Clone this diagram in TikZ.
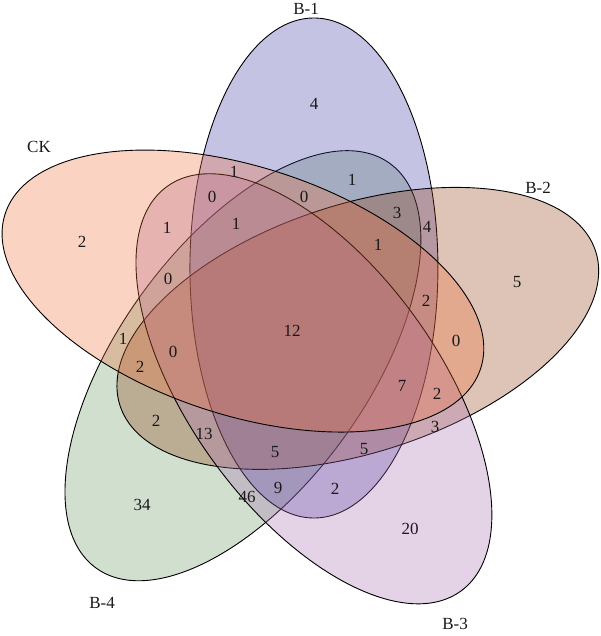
\documentclass[tikz,border=0pt]{standalone}
\usepackage{fontspec}
\setmainfont{Liberation Serif}
\usepackage{tikz}
\definecolor{ckc}{RGB}{238,108,55}
\definecolor{bonec}{RGB}{62,55,165}
\definecolor{btwoc}{RGB}{142,58,12}
\definecolor{bthreec}{RGB}{165,108,175}
\definecolor{bfourc}{RGB}{98,148,92}

\begin{document}
\begin{tikzpicture}[x=1pt, y=1pt,
  % translucent petal of the five-set diagram
  petal/.style={fill=#1, fill opacity=0.3, draw=black, line width=0.9pt},
  cnt/.style={font=\fontsize{17}{19}\selectfont, text=black!90, inner sep=1pt},
  setlbl/.style={font=\fontsize{17}{19}\selectfont, text=black!90, inner sep=1pt},
]
\useasboundingbox (0,0) rectangle (600,636);

%% -- petals: one ellipse turned by 72 degrees about the centre --
\foreach \ang/\col in {216/bfourc, 72/bonec, 0/btwoc, 288/bthreec, 144/ckc}{
  \begin{scope}[shift={(294.3,307.6)}, rotate=\ang]
    \path[petal=\col, rotate around={18:(63.5,0)}] (63.5,0) ellipse [x radius=250, y radius=124];
  \end{scope}
}

%% -- set names --
\node[setlbl] (lb1) at (306,627) {B-1};
\node[setlbl] (lck) at (39,489) {CK};
\node[setlbl] (lb2) at (538,448) {B-2};
\node[setlbl] (lb3) at (455,12) {B-3};
\node[setlbl] (lb4) at (102,33) {B-4};

%% -- region counts --
\foreach \x/\y/\v [count=\i] in {314/532/4, 82/394/2, 517/354/5, 410/107/20, 142/131/34,
    292/305/12, 234/464/1, 212/439/0, 167/408/1, 236/412/1, 168/357/0,
    352/456/1, 304/439/0, 397/423/3, 427/409/4, 378/391/1, 426/335/2,
    123/297/1, 173/284/0, 140/269/2, 156/215/2, 204/202/13, 275/184/5, 278/148/9, 247/139/46,
    456/295/0, 402/250/7, 437/242/2, 435/209/3, 364/187/5, 335/147/2}{
  \node[cnt] (r\i) at (\x,\y) {\v};
}

\end{tikzpicture}
\end{document}
